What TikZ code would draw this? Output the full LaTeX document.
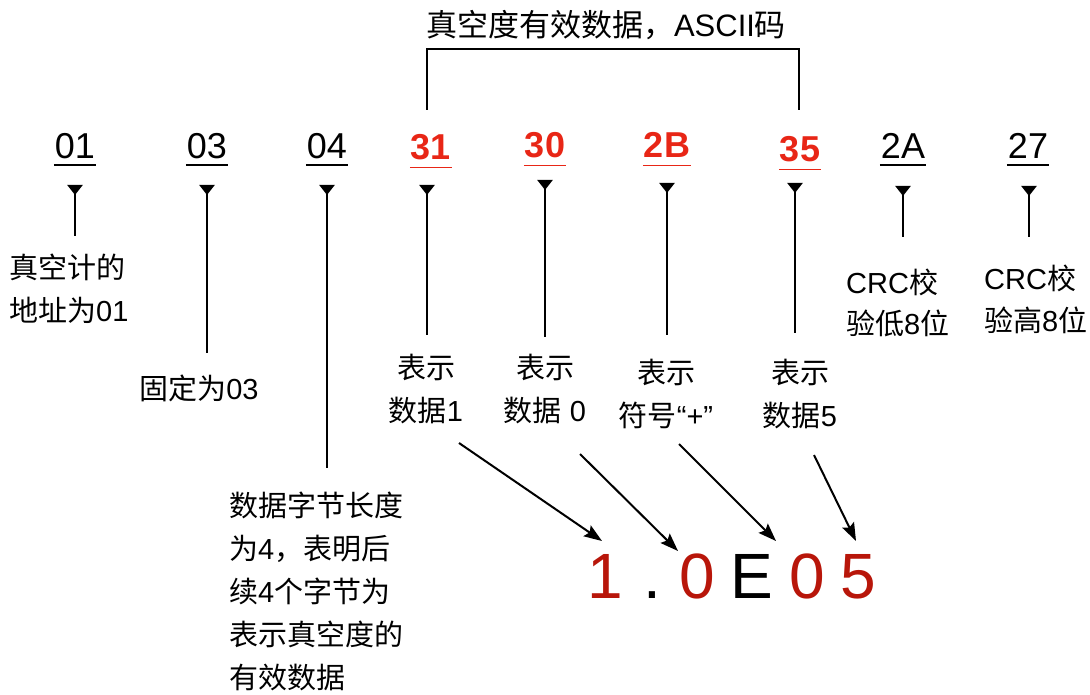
\documentclass[tikz,border=0pt]{standalone}
\usepackage{fontspec}
\setmainfont{Liberation Sans}
\newfontfamily\cjk{Noto Sans CJK SC}
\usetikzlibrary{arrows.meta}
\definecolor{hexred}{RGB}{232,38,22}
\definecolor{bigred}{RGB}{184,22,10}
\begin{document}
\begin{tikzpicture}[x=1pt,y=-1pt,
  hex/.style={inner xsep=1pt, inner ysep=0pt, anchor=base, font=\fontsize{36}{40}\selectfont},
  hexr/.style={hex, text=hexred, font=\fontsize{36}{40}\selectfont\bfseries},
  ul/.style={line width=1.8pt},
  stem/.style={line width=2.2pt, {Triangle[reversed,width=15pt,length=10pt]}-},
  lab/.style={inner sep=0pt, font=\fontsize{29}{43}\selectfont},
  big/.style={anchor=base, inner sep=0pt, font=\fontsize{64}{70}\selectfont},
  arr/.style={line width=2pt, -{Stealth[length=18pt,width=13pt,inset=3pt]}},
]
\useasboundingbox (0,0) rectangle (1090,695);

% hex bytes
\node[hex]  (h01) at (75,159) {01};
\node[hex]  (h03) at (207,159) {03};
\node[hex]  (h04) at (327,159) {04};
\node[hexr] (h31) at (431,160) {31};
\node[hexr] (h30) at (545,158) {30};
\node[hexr] (h2B) at (667,158) {2B};
\node[hexr] (h35) at (800,162) {35};
\node[hex]  (h2A) at (903,159) {2A};
\node[hex]  (h27) at (1028,159) {27};

\foreach \n in {h01,h03,h04,h2A,h27}
  \draw[ul] ([yshift=-6pt]\n.base west) -- ([yshift=-6pt]\n.base east);
\foreach \n in {h31,h30,h2B,h35}
  \draw[ul,hexred] ([yshift=-7.5pt]\n.base west) -- ([yshift=-7.5pt]\n.base east);

% title and bracket
\node[lab, font=\fontsize{31}{36}\selectfont] (title) at (606,25) {{\cjk 真空度有效数据，}ASCII{\cjk 码}};
\coordinate (bl) at (427,110);
\coordinate (br) at (799,110);
\draw[line width=2pt] (bl) -- (427,49) -- (799,49) -- (br);

% labels
\node[lab, align=left, anchor=west] (t01) at (9,289) {{\cjk 真空计的}\\{\cjk 地址为}01};
\node[lab] (t03) at (199,388) {{\cjk 固定为}03};
\node[lab, align=left, anchor=west] (t04) at (229,591) {{\cjk 数据字节长度}\\{\cjk 为}4{\cjk ，表明后}\\{\cjk 续}4{\cjk 个字节为}\\{\cjk 表示真空度的}\\{\cjk 有效数据}};
\node[lab, align=center] (t31) at (426,389) {{\cjk 表示}\\{\cjk 数据}1};
\node[lab, align=center] (t30) at (545,389) {{\cjk 表示}\\{\cjk 数据} 0};
\node[lab, align=center] (t2B) at (666,394) {{\cjk 表示}\\{\cjk 符号}“+”};
\node[lab, align=center] (t35) at (800,394) {{\cjk 表示}\\{\cjk 数据}5};
\node[lab, align=left, anchor=west, font=\fontsize{29}{41}\selectfont] (t2A) at (846,303) {CRC{\cjk 校}\\{\cjk 验低}8{\cjk 位}};
\node[lab, align=left, anchor=west, font=\fontsize{29}{42}\selectfont] (t27) at (984,299) {CRC{\cjk 校}\\{\cjk 验高}8{\cjk 位}};

% stems
\coordinate (s01a) at (75,185);   \coordinate (s01b) at (75,236);
\coordinate (s03a) at (207,185);  \coordinate (s03b) at (207,353);
\coordinate (s04a) at (327,185);  \coordinate (s04b) at (327,468);
\coordinate (s31a) at (427,185);  \coordinate (s31b) at (427,335);
\coordinate (s30a) at (545,180);  \coordinate (s30b) at (545,337);
\coordinate (s2Ba) at (667,183);  \coordinate (s2Bb) at (667,335);
\coordinate (s35a) at (795,183);  \coordinate (s35b) at (795,333);
\coordinate (s2Aa) at (903,186);  \coordinate (s2Ab) at (903,237);
\coordinate (s27a) at (1029,186); \coordinate (s27b) at (1029,237);
\foreach \n in {01,03,04,31,30,2B,35,2A,27}
  \draw[stem] (s\n a) -- (s\n b);

% big value
\node[big, text=bigred] (c1)  at (605,598) {1};
\node[big]              (cd)  at (652,598) {.};
\node[big, text=bigred] (c0a) at (697,598) {0};
\node[big]              (cE)  at (752,598) {E};
\node[big, text=bigred] (c0b) at (807,598) {0};
\node[big, text=bigred] (c5)  at (858,598) {5};

% arrows
\coordinate (a1s) at (459,443); \coordinate (a1e) at (602,541);
\coordinate (a2s) at (580,454); \coordinate (a2e) at (678,551);
\coordinate (a3s) at (679,444); \coordinate (a3e) at (776,541);
\coordinate (a4s) at (814,455); \coordinate (a4e) at (856,541);
\draw[arr] (a1s) -- (a1e);
\draw[arr] (a2s) -- (a2e);
\draw[arr] (a3s) -- (a3e);
\draw[arr] (a4s) -- (a4e);
\end{tikzpicture}
\end{document}
